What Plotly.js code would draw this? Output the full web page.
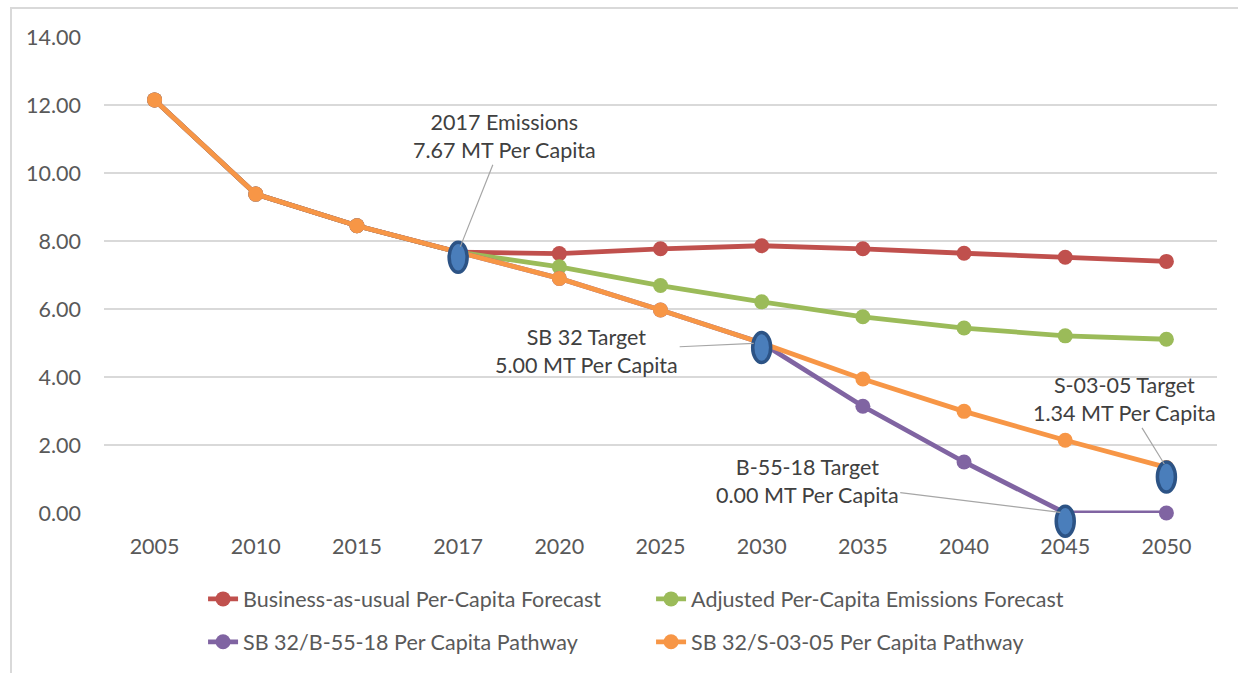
<!DOCTYPE html>
<html>
<head>
<meta charset="utf-8">
<script src="https://cdn.plot.ly/plotly-3.0.1.min.js"></script>
<style>
  html, body { margin: 0; padding: 0; background: #fff; }
  #wrap { position: relative; width: 1238px; height: 673px; overflow: hidden; }
  #frame { position: absolute; left: 10px; top: 7px; width: 1300px; height: 700px;
           border-left: 2px solid #d9d9d9; border-top: 2px solid #d9d9d9; pointer-events: none; }
  #chart { position: absolute; left: 0; top: 0; width: 1238px; height: 673px; }
</style>
</head>
<body>
<div id="wrap">
  <div id="chart"></div>
  <div id="frame"></div>
</div>
<script>
// Per-capita emissions forecast vs. target pathways (MT CO2e per capita).
const years = ["2005", "2010", "2015", "2017", "2020", "2025", "2030", "2035", "2040", "2045", "2050"];

const bau      = [12.15, 9.38, 8.45, 7.67, 7.63, 7.77, 7.86, 7.77, 7.64, 7.52, 7.40];
const adjusted = [12.15, 9.38, 8.45, 7.67, 7.24, 6.69, 6.21, 5.77, 5.44, 5.21, 5.11];
const sbB5518  = [12.15, 9.38, 8.45, 7.67, 6.90, 5.97, 5.00, 3.14, 1.50, 0.00, 0.00];
const sbS0305  = [12.15, 9.38, 8.45, 7.67, 6.90, 5.97, 5.00, 3.94, 2.99, 2.14, 1.34];

// highlighted milestones (blue ellipses) and their callouts
const hlYears  = ["2017", "2030", "2045", "2050"];
const hlCenter = [7.52, 4.87, -0.24, 1.06];
const hlValue  = [7.67, 5.00, 0.00, 1.34];
const hlLabels = [
  "2017 Emissions<br>7.67 MT Per Capita",
  "SB 32 Target<br>5.00 MT Per Capita",
  "B-55-18 Target<br>0.00 MT Per Capita",
  "S-03-05 Target<br>1.34 MT Per Capita",
];
const hlOffsets = [[46, -116, 6], [-175, 8, 8], [-258, -32, 5], [-42, -68, 4]];

const FONT = "Lato, 'Open Sans', sans-serif";
const FS = 21.5;
const Y_MAX = 14;

function series(name, y, color, legend) {
  return {
    x: years, y, name, type: "scatter", mode: "lines+markers",
    line: { color, width: 4.8 },
    marker: { color, size: 15 },
    cliponaxis: false,
    legend,
  };
}

const traces = [
  series("Business-as-usual Per-Capita Forecast", bau, "#c0504d", "legend"),
  series("Adjusted Per-Capita Emissions Forecast", adjusted, "#9bbb59", "legend"),
  series("SB 32/B-55-18 Per Capita Pathway", sbB5518, "#8064a2", "legend2"),
  series("SB 32/S-03-05 Per Capita Pathway", sbS0305, "#f79646", "legend2"),
];

// ellipses: pixel-sized, anchored in axis-domain units so they are not clipped
const shapes = hlYears.map((yr, i) => ({
  type: "circle", layer: "above",
  xref: "x domain", yref: "y domain",
  xsizemode: "pixel", ysizemode: "pixel",
  xanchor: (years.indexOf(yr) + 0.5) / years.length,
  yanchor: hlCenter[i] / Y_MAX,
  x0: -9, x1: 9, y0: -15, y1: 15,
  fillcolor: "#4a7ebb",
  line: { color: "#2c5385", width: 3.5 },
}));

const annotations = hlYears.map((yr, i) => ({
  x: years.indexOf(yr), y: hlValue[i], xref: "x", yref: "y",
  text: hlLabels[i],
  showarrow: true, arrowhead: 0, arrowwidth: 1.2, arrowcolor: "#a6a6a6",
  ax: hlOffsets[i][0], ay: hlOffsets[i][1], standoff: hlOffsets[i][2],
  font: { family: FONT, size: FS, color: "#404040" },
  align: "center",
}));

const legendBase = {
  orientation: "h", xanchor: "left", yanchor: "middle",
  entrywidth: 403, entrywidthmode: "pixels",
  font: { family: FONT, size: FS, color: "#595959" },
  bgcolor: "rgba(0,0,0,0)",
};

const layout = {
  width: 1238, height: 673,
  margin: { l: 104, r: 21, t: 37, b: 159 },
  paper_bgcolor: "rgba(0,0,0,0)",
  plot_bgcolor: "rgba(0,0,0,0)",
  font: { family: FONT, size: FS, color: "#595959" },
  xaxis: {
    type: "category", range: [-0.5, years.length - 0.5],
    showgrid: false, zeroline: false, showline: false, ticks: "",
    ticklabelstandoff: 18, tickfont: { family: FONT, size: FS, color: "#595959" },
  },
  yaxis: {
    range: [0, Y_MAX], dtick: 2, tickformat: ".2f",
    showgrid: true, gridcolor: "#d9d9d9", gridwidth: 1.5,
    zeroline: false, showline: false, ticks: "",
    ticklabelstandoff: 22, tickfont: { family: FONT, size: FS, color: "#595959" },
  },
  legend: { ...legendBase, x: 0.089, y: -0.178 },
  legend2: { ...legendBase, x: 0.089, y: -0.268 },
  shapes,
  annotations,
};

Plotly.newPlot("chart", traces, layout, { displayModeBar: false, staticPlot: true });
</script>
</body>
</html>
